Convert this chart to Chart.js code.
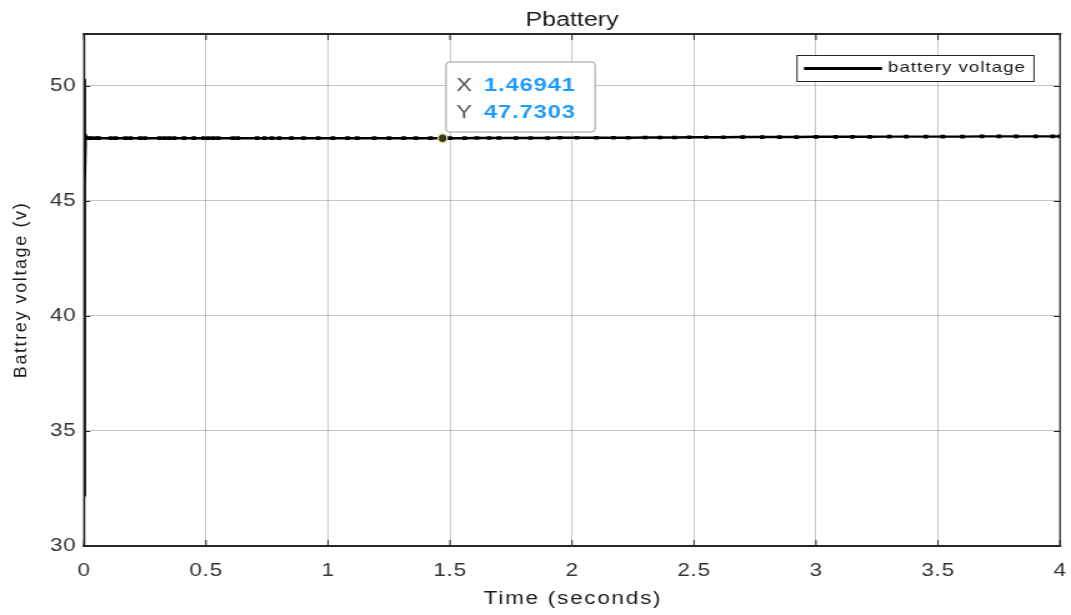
<!DOCTYPE html>
<html><head><meta charset="utf-8">
<script src="https://cdn.jsdelivr.net/npm/chart.js@4/dist/chart.umd.min.js"></script>
<style>
html,body{margin:0;padding:0;background:#fff;overflow:hidden;}
#c{width:1071px;height:615px;display:block;}
</style>
</head><body><canvas id="c" width="857" height="615" style="width:1071px;height:615px;"></canvas>
<script>
const chartTitle = "Pbattery";
const xLabel = "Time (seconds)";
const yLabel = "Battrey voltage (v)";
const seriesName = "battery voltage";
const xTicks = [0, 0.5, 1, 1.5, 2, 2.5, 3, 3.5, 4];
const yTicks = [30, 35, 40, 45, 50];
const yMin = 30, yMax = 52.26, xMin = 0, xMax = 4;
// transient start then steady samples
const times = [0, 0.001, 0.003, 0.006, 0.01, 0.02, 0.03, 0.05, 0.06, 0.11, 0.13, 0.17, 0.19, 0.23, 0.25, 0.31, 0.33, 0.35, 0.37, 0.41, 0.45, 0.49, 0.51, 0.53, 0.55, 0.61, 0.63, 0.71, 0.74, 0.77, 0.8, 0.85, 0.9, 0.96, 1.02, 1.08, 1.12, 1.19, 1.25, 1.31, 1.36, 1.42, 1.5, 1.56, 1.61, 1.66, 1.7, 1.77, 1.83, 1.9, 1.95, 2.02, 2.1, 2.17, 2.23, 2.3, 2.36, 2.42, 2.48, 2.55, 2.62, 2.7, 2.78, 2.85, 2.92, 3.0, 3.08, 3.15, 3.22, 3.3, 3.37, 3.45, 3.52, 3.6, 3.68, 3.75, 3.82, 3.9, 3.97, 4.0];
const volts = [32.2, 50.3, 45.7, 47.9, 47.7, 47.73, 47.73, 47.73, 47.73, 47.73, 47.73, 47.73, 47.73, 47.73, 47.73, 47.73, 47.73, 47.73, 47.73, 47.73, 47.73, 47.73, 47.73, 47.73, 47.73, 47.73, 47.73, 47.73, 47.73, 47.73, 47.73, 47.73, 47.73, 47.73, 47.73, 47.73, 47.73, 47.73, 47.73, 47.73, 47.73, 47.73, 47.73, 47.73, 47.74, 47.74, 47.74, 47.74, 47.74, 47.74, 47.75, 47.75, 47.75, 47.75, 47.75, 47.76, 47.76, 47.76, 47.77, 47.77, 47.77, 47.78, 47.78, 47.78, 47.78, 47.79, 47.79, 47.79, 47.79, 47.8, 47.8, 47.8, 47.8, 47.8, 47.81, 47.81, 47.81, 47.81, 47.81, 47.81];
const tipX = 1.46941, tipY = 47.7303;

const S = 1071 / 857;
const pts = times.map((t, i) => ({x: t, y: volts[i]}));
const FONT = "'Liberation Sans', Arial, sans-serif";

const spacing = {
  id: 'spacing',
  beforeDraw(chart) { chart.ctx.letterSpacing = '0.6px'; }
};

const decor = {
  id: 'decor',
  afterDraw(chart) {
    const ctx = chart.ctx, a = chart.chartArea, xs = chart.scales.x, ys = chart.scales.y;
    ctx.save();
    ctx.setTransform(1, 0, 0, 1, 0, 0);
    ctx.globalAlpha = 1;
    ctx.globalCompositeOperation = 'source-over';
    ctx.letterSpacing = '0px';
    // ticks inward
    ctx.strokeStyle = '#262626'; ctx.lineWidth = 1;
    xTicks.forEach(v => { const px = xs.getPixelForValue(v);
      ctx.beginPath(); ctx.moveTo(px, a.bottom); ctx.lineTo(px, a.bottom - 6); ctx.moveTo(px, a.top); ctx.lineTo(px, a.top + 6); ctx.stroke(); });
    yTicks.forEach(v => { const py = Math.round(ys.getPixelForValue(v)) + 0.5;
      ctx.beginPath(); ctx.moveTo(a.left, py); ctx.lineTo(a.left + 5, py); ctx.moveTo(a.right, py); ctx.lineTo(a.right - 5, py); ctx.stroke(); });
    // box
    ctx.fillStyle = '#262626';
    const T = Math.round(a.top), B = Math.round(a.bottom);
    ctx.fillRect(a.left - 1, T - 1, a.right - a.left + 2, 2);
    ctx.fillRect(a.left - 1, B - 1, a.right - a.left + 2, 2);
    ctx.fillRect(a.left - 0.6, T - 1, 1.2, B - T + 2);
    ctx.fillRect(a.right - 0.6, T - 1, 1.2, B - T + 2);
    // title & labels
    ctx.fillStyle = '#1a1a1a'; ctx.textAlign = 'center'; ctx.textBaseline = 'middle';
    ctx.font = '20px ' + FONT;
    ctx.fillText(chartTitle, 572 / S, 20);
    ctx.letterSpacing = '1.4px';
    ctx.font = '18px ' + FONT;
    ctx.fillText(xLabel, 573 / S, 599);
    ctx.save(); ctx.translate(21 / S, 290); ctx.scale(1 / S, 1); ctx.rotate(-Math.PI / 2);
    ctx.letterSpacing = '1.6px';
    ctx.font = '18px ' + FONT; ctx.fillText(yLabel, 0, 0); ctx.restore();
    // legend
    const lx = 797 / S, ly = 55, lw = 237 / S, lh = 26;
    ctx.fillStyle = '#fff'; ctx.fillRect(lx, ly, lw, lh);
    ctx.lineWidth = 1; ctx.strokeStyle = '#262626'; ctx.strokeRect(lx, ly + 0.5, lw, lh);
    ctx.lineWidth = 3; ctx.strokeStyle = '#000';
    ctx.beginPath(); ctx.moveTo(804 / S, 68.5); ctx.lineTo(882 / S, 68.5); ctx.stroke();
    ctx.fillStyle = '#1a1a1a'; ctx.textAlign = 'left'; ctx.font = '15px ' + FONT;
    ctx.letterSpacing = '0.8px';
    ctx.fillText(seriesName, 888 / S, 68);
    // datatip
    const mx = xs.getPixelForValue(tipX), my = ys.getPixelForValue(tipY);
    const bx = 446 / S, by = 62, bw = 149 / S, bh = 70;
    ctx.fillStyle = 'rgba(255,255,255,0.95)';
    ctx.beginPath(); ctx.roundRect(bx, by, bw, bh, 3); ctx.fill();
    ctx.strokeStyle = '#9a9a9a'; ctx.lineWidth = 1; ctx.stroke();
    ctx.letterSpacing = '0.7px';
    ctx.font = '19px ' + FONT; ctx.fillStyle = '#555';
    ctx.fillText('X', 456 / S, 86); ctx.fillText('Y', 456 / S, 113);
    ctx.font = 'bold 19px ' + FONT; ctx.fillStyle = '#1e9bff';
    ctx.fillText(String(tipX), 484 / S, 86); ctx.fillText(String(tipY), 484 / S, 113);
    ctx.letterSpacing = '0px';
    ctx.save(); ctx.translate(mx, my); ctx.scale(1 / S, 1);
    ctx.beginPath(); ctx.arc(0, 0, 4.5, 0, Math.PI * 2);
    ctx.fillStyle = '#333'; ctx.fill(); ctx.strokeStyle = '#f0e68c'; ctx.lineWidth = 1.5; ctx.stroke();
    ctx.restore();
    ctx.restore();
  }
};

new Chart(document.getElementById('c'), {
  type: 'line',
  data: { datasets: [{ label: seriesName, data: pts, borderColor: '#000', backgroundColor: '#000',
    borderWidth: 2.4, pointStyle: 'rect', pointRadius: ctx => ctx.dataIndex < 5 ? 0 : 2.6, pointBorderWidth: 0, tension: 0 }] },
  options: {
    responsive: false, animation: false, events: [], devicePixelRatio: 1,
    layout: { padding: { top: 34, right: 857 - 1060 / S, left: 0, bottom: 0 } },
    plugins: { legend: { display: false }, tooltip: { enabled: false }, title: { display: false } },
    scales: {
      x: { type: 'linear', min: xMin, max: xMax,
        afterBuildTicks: s => { s.ticks = xTicks.map(v => ({value: v})); },
        afterFit: s => { s.height = 69; s.paddingLeft = 0; s.paddingRight = 0; },
        grid: { color: 'rgba(0,0,0,0.22)', lineWidth: 1, drawTicks: false },
        border: { display: true, color: '#262626', width: 1.5 },
        ticks: { padding: 14, color: '#333', font: { size: 18, family: FONT }, maxRotation: 0, callback: v => String(v) } },
      y: { type: 'linear', min: yMin, max: yMax,
        afterBuildTicks: s => { s.ticks = yTicks.map(v => ({value: v})); },
        afterFit: s => { s.width = 84 / S; s.paddingTop = 0; s.paddingBottom = 0; },
        grid: { color: 'rgba(0,0,0,0.22)', lineWidth: 1, drawTicks: false },
        border: { display: true, color: '#262626', width: 1.2 },
        ticks: { padding: 6, color: '#333', font: { size: 18, family: FONT }, callback: v => String(v) } }
    }
  },
  plugins: [spacing, decor]
});
</script></body></html>
